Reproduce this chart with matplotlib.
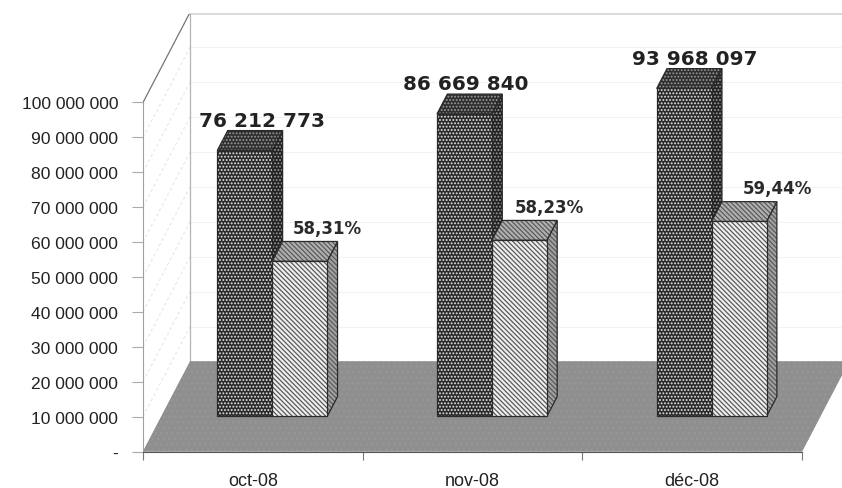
import matplotlib
matplotlib.use("Agg")
import matplotlib.pyplot as plt
from matplotlib.patches import Polygon

months = ["oct-08", "nov-08", "déc-08"]
totals = [76212773, 86669840, 93968097]
shares = [44440000, 50470000, 55850000]
total_labels = ["76 212 773", "86 669 840", "93 968 097"]
share_labels = ["58,31%", "58,23%", "59,44%"]
y_ticks = [0, 10000000, 20000000, 30000000, 40000000, 50000000,
           60000000, 70000000, 80000000, 90000000, 100000000]
y_labels = ["-", "10 000 000", "20 000 000", "30 000 000", "40 000 000", "50 000 000",
            "60 000 000", "70 000 000", "80 000 000", "90 000 000", "100 000 000"]

# fake 3d: one unit of depth moves this far in data units
DX = 0.214
DY = 25.8e6
Z0, Z1 = 0.39, 0.61
BAR_W = 0.25

# label placement inside each category, picked by eye
total_dx = [0.54, 0.47, 0.51]
share_dx = [0.84, 0.85, 0.89]

plt.rcParams["font.family"] = ["Liberation Sans", "DejaVu Sans"]
plt.rcParams["hatch.linewidth"] = 0.9

fig = plt.figure(figsize=(8.42, 4.89), dpi=100)
ax = fig.add_axes([143 / 842, 36.5 / 489, 699 / 842, 438 / 489])
ax.set_xlim(0, 3.182)
ax.set_ylim(0, 125.5e6)


def proj(x, v, z):
    return (x + DX * z, v + DY * z)


def face(pts, color, hatch_color, hatch, zorder, outline="#2a2a2a"):
    ax.add_patch(Polygon(pts, closed=True, facecolor=color, edgecolor=hatch_color,
                         hatch=hatch, lw=0, zorder=zorder))
    ax.add_patch(Polygon(pts, closed=True, fill=False, edgecolor=outline, lw=0.9, zorder=zorder))


def bar3d(x0, x1, v, colors, hatches, zorder):
    front = [proj(x0, 0, Z0), proj(x1, 0, Z0), proj(x1, v, Z0), proj(x0, v, Z0)]
    side = [proj(x1, 0, Z0), proj(x1, 0, Z1), proj(x1, v, Z1), proj(x1, v, Z0)]
    top = [proj(x0, v, Z0), proj(x1, v, Z0), proj(x1, v, Z1), proj(x0, v, Z1)]
    face(side, colors[1], colors[3], hatches[1], zorder)
    face(top, colors[2], colors[3], hatches[1], zorder + 0.1)
    face(front, colors[0], colors[4], hatches[0], zorder + 0.2)


# walls
for v in y_ticks[1:]:
    ax.plot([DX, 3.3], [v + DY, v + DY], color="#f3f3f3", lw=0.8, zorder=1)
    ax.plot([0, DX], [v, v + DY], color="#e2e2e2", lw=0.7, ls=(0, (3, 3)), zorder=1)
ax.plot([DX, 3.3], [125.5e6, 125.5e6], color="#cfcfcf", lw=1.1, clip_on=False, zorder=1)
ax.plot([DX, DX], [DY, 125.5e6], color="#b4b4b4", lw=0.9, zorder=1)
ax.plot([0, DX], [100e6, 100e6 + DY], color="#777777", lw=0.9, zorder=1)

# floor
ax.add_patch(Polygon([proj(0, 0, 0), proj(3, 0, 0), proj(3, 0, 1), proj(3.3, 0, 1), proj(0, 0, 1)],
                     closed=True, facecolor="#8f8f8f", edgecolor="none", zorder=2))
ax.add_patch(Polygon([proj(0, 0, 0), proj(3, 0, 0), proj(3, 0, 1), proj(0, 0, 1)],
                     closed=True, facecolor="#8f8f8f", edgecolor="#979797", hatch="...", lw=0, zorder=2))

dark = ("#2b2b2b", "#222222", "#2e2e2e", "#9a9a9a", "#e6e6e6")
light = ("#efefef", "#a2a2a2", "#b0b0b0", "#5a5a5a", "#5a5a5a")
for i in range(len(months)):
    bar3d(i + 0.255, i + 0.255 + BAR_W, totals[i], dark, (".....", "....."), 3 + i)
    bar3d(i + 0.255 + BAR_W, i + 0.255 + 2 * BAR_W, shares[i], light, ("\\\\\\\\\\\\\\", "\\\\\\\\\\\\\\"), 3.5 + i)
    ax.text(i + total_dx[i], totals[i] + DY * Z1 + 0.2e6, total_labels[i], family="DejaVu Sans", weight="bold",
            fontsize=14.4, color="#222222", ha="center", va="bottom", zorder=10)
    ax.text(i + share_dx[i], shares[i] + DY * Z1 + 1.2e6, share_labels[i], family="DejaVu Sans", weight="bold",
            fontsize=12, color="#2a2a2a", ha="center", va="bottom", zorder=10)

ax.set_yticks(y_ticks)
ax.set_yticklabels(y_labels, fontsize=12.6, color="#222222")
ax.set_xticks([0, 1, 2, 3])
ax.set_xticklabels([])
ax.set_xticks([0.5, 1.5, 2.5], labels=months, minor=True, fontsize=13, color="#222222")
ax.tick_params(axis="x", which="minor", length=0, pad=15)
ax.tick_params(axis="x", which="major", length=6, color="#777777")
ax.tick_params(axis="y", length=8, color="#aaaaaa", pad=10)
for s in ("top", "right"):
    ax.spines[s].set_visible(False)
ax.spines["left"].set_bounds(0, 100e6)
ax.spines["left"].set_color("#a0a0a0")
ax.spines["bottom"].set_bounds(0, 3)
ax.spines["bottom"].set_color("#555555")
ax.patch.set_visible(False)

fig.savefig("out.png", dpi=100)
